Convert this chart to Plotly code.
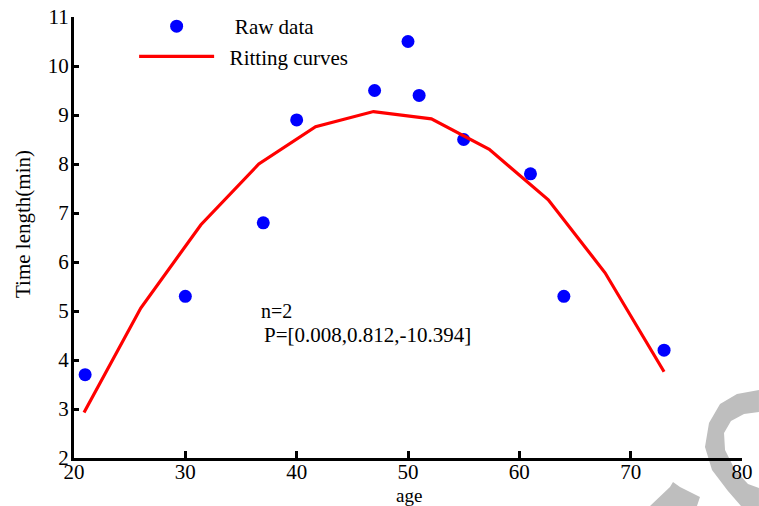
import plotly.graph_objects as go

# Measured samples
age = [21, 30, 37, 40, 47, 50, 51, 55, 61, 64, 73]
time_len = [3.7, 5.3, 6.8, 8.9, 9.5, 10.5, 9.4, 8.5, 7.8, 5.3, 4.2]

# Fitted quadratic, evaluated at 11 ages
fit_age = [20.9, 26.0, 31.4, 36.6, 41.7, 46.9, 52.1, 57.3, 62.6, 67.7, 73.0]
fit_time = [2.93, 5.06, 6.76, 8.0, 8.76, 9.07, 8.92, 8.3, 7.27, 5.78, 3.76]

x_ticks = [20, 30, 40, 50, 60, 70, 80]
y_ticks = [2, 3, 4, 5, 6, 7, 8, 9, 10, 11]

W, H = 759, 506
L, R, T, B = 74, 17, 17, 48
FONT = "Liberation Serif"
NBSP = "\u00a0"


def px(x, y):
    """Convert pixel position to paper coordinates."""
    return (x - L) / (W - L - R), (H - B - y) / (H - T - B)


def path(points):
    pts = [px(x, y) for x, y in points]
    return "M " + " L ".join(f"{a:.4f},{b:.4f}" for a, b in pts) + " Z"


fig = go.Figure()

fig.add_trace(go.Scatter(
    x=age, y=time_len, mode="markers", name=NBSP * 3 + "Raw data",
    marker=dict(color="#0000FF", size=13, symbol="circle"),
    cliponaxis=False,
))
fig.add_trace(go.Scatter(
    x=fit_age, y=fit_time, mode="lines", name=NBSP * 2 + "Ritting curves",
    line=dict(color="#FF0000", width=3.2),
))

# Grey watermark in the lower-right corner
crescent = [(759, 390), (737, 394), (720, 404), (709, 423), (705, 447), (712, 470),
            (728, 491), (741, 506), (759, 506), (759, 488), (748, 484), (735, 470),
            (725, 450), (724, 433), (731, 421), (744, 414), (759, 412)]
wedge = [(650, 506), (670, 487), (673, 482), (680, 487), (700, 497), (697, 506)]
shapes = [
    dict(type="path", xref="paper", yref="paper", path=path(crescent),
         fillcolor="#BEBEBE", line=dict(width=0), layer="below"),
    dict(type="path", xref="paper", yref="paper", path=path(wedge),
         fillcolor="#BEBEBE", line=dict(width=0), layer="below"),
]

# Axis titles placed as free annotations
yt_x, yt_y = px(23, 224)
xt_x, xt_y = px(409, 495)

fig.update_layout(
    width=W, height=H,
    margin=dict(l=L, r=R, t=T, b=B, autoexpand=False),
    paper_bgcolor="white", plot_bgcolor="rgba(0,0,0,0)",
    font=dict(family=FONT, size=20, color="black"),
    showlegend=True,
    legend=dict(
        x=0.09, y=1.025, xanchor="left", yanchor="top",
        bgcolor="rgba(0,0,0,0)", borderwidth=0,
        font=dict(family=FONT, size=21, color="black"),
        itemwidth=75, tracegroupgap=0,
    ),
    shapes=shapes,
    annotations=[
        dict(xref="x", yref="y", x=36.6, y=5.0, xanchor="left", yanchor="middle",
             text="n=2", showarrow=False, font=dict(family=FONT, size=20)),
        dict(xref="x", yref="y", x=36.9, y=4.52, xanchor="left", yanchor="middle",
             text="P=[0.008,0.812,-10.394]", showarrow=False,
             font=dict(family=FONT, size=21)),
        dict(xref="paper", yref="paper", x=yt_x, y=yt_y, xanchor="center",
             yanchor="middle", text="Time length(min)", textangle=-90,
             showarrow=False, font=dict(family=FONT, size=21)),
        dict(xref="paper", yref="paper", x=xt_x, y=xt_y, xanchor="center",
             yanchor="middle", text="age", showarrow=False,
             font=dict(family=FONT, size=19)),
    ],
)

fig.update_xaxes(
    range=[20, 80], tickvals=x_ticks, ticktext=[str(v) for v in x_ticks],
    showline=True, linecolor="black", linewidth=3, mirror=False,
    ticks="inside", ticklen=7, tickwidth=3, tickcolor="black",
    showgrid=False, zeroline=False, automargin=False,
    ticklabelstandoff=-7,
    tickfont=dict(family=FONT, size=21),
)
fig.update_yaxes(
    range=[2, 11], tickvals=y_ticks, ticktext=[str(v) for v in y_ticks],
    showline=True, linecolor="black", linewidth=3, mirror=False,
    ticks="inside", ticklen=5, tickwidth=3, tickcolor="black",
    showgrid=False, zeroline=False, automargin=False,
    ticklabelstandoff=-2,
    tickfont=dict(family=FONT, size=21),
)

fig.write_html("out.html")
